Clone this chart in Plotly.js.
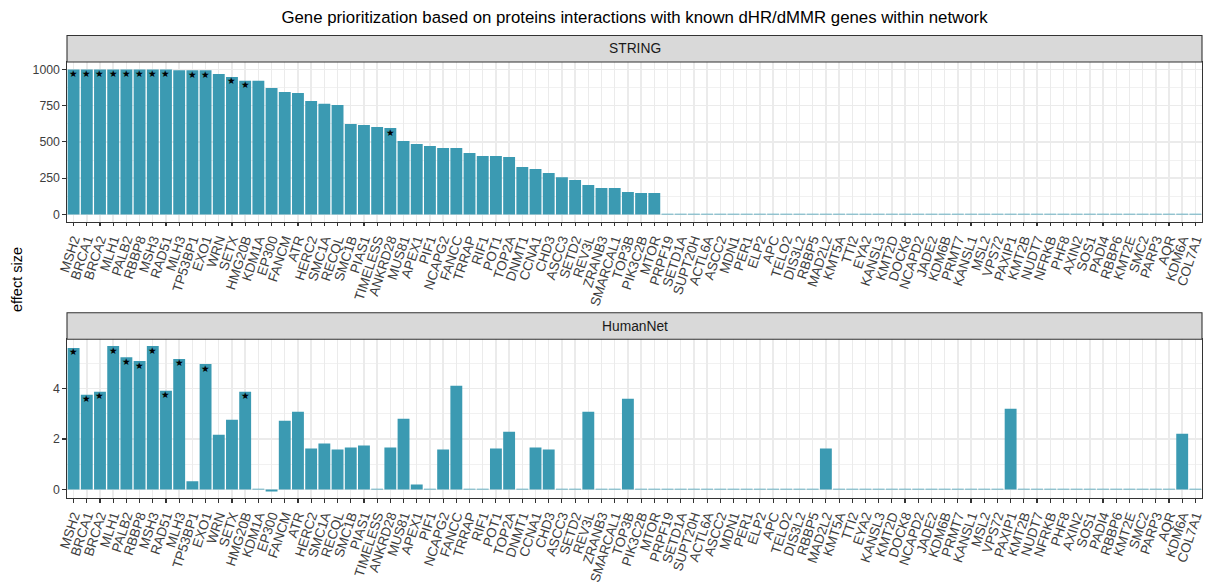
<!DOCTYPE html>
<html>
<head>
<meta charset="utf-8">
<script src="https://cdn.plot.ly/plotly-3.0.1.min.js"></script>
<style>html,body{margin:0;padding:0;background:#fff;}</style>
</head>
<body>
<div id="chart" style="width:1208px;height:583px;"></div>
<script>
// Candidate genes, in ranked order
const genes = ["MSH2","BRCA1","BRCA2","MLH1","PALB2","RBBP8","MSH3","RAD51","MLH3","TP53BP1",
  "EXO1","WRN","SETX","HMG20B","KDM1A","EP300","FANCM","ATR","HERC2","SMC1A",
  "RECQL","SMC1B","PIAS1","TIMELESS","ANKRD28","MUS81","APEX1","PIF1","NCAPG2","FANCC",
  "TRRAP","RIF1","POT1","TOP2A","DNMT1","CCNA1","CHD3","ASCC3","SETD2","REV3L",
  "ZRANB3","SMARCAL1","TOP3B","PIK3C2B","MTOR","PRPF19","SETD1A","SUPT20H","ACTL6A","ASCC2",
  "MDN1","PER1","ELP2","APC","TELO2","DIS3L2","RBBP5","MAD2L2","KMT5A","TTI2",
  "EYA2","KANSL3","KMT2D","DOCK8","NCAPD2","JADE2","KDM6B","PRMT7","KANSL1","MSL2",
  "VPS72","PAXIP1","KMT2B","NUDT7","NFRKB","PHF8","AXIN2","SOS1","PADI4","RBBP6",
  "KMT2E","SMC2","PARP3","AQR","KDM6A","COL7A1"];

// STRING interaction scores
const stringScores = [999,999,999,999,999,999,999,999,993,993,
  993,968,947,920,920,871,844,837,782,763,
  754,623,616,602,595,506,485,471,457,457,
  423,402,402,395,326,313,285,257,237,202,
  182,182,154,147,147,5,5,5,5,5,
  5,5,5,5,5,5,5,5,5,5,
  5,5,5,5,5,5,5,5,5,5,
  5,5,5,5,5,5,5,5,5,5,
  5,5,5,5,5,5];

// HumanNet effect sizes
const humanNetScores = [5.61,3.75,3.87,5.68,5.24,5.09,5.68,3.91,5.17,0.32,
  4.97,2.17,2.76,3.87,0.03,-0.08,2.72,3.08,1.62,1.82,
  1.58,1.66,1.74,0.03,1.66,2.80,0.20,0.03,1.58,4.11,
  0.03,0.03,1.62,2.29,0.03,1.66,1.58,0.03,0.03,3.08,
  0.03,0.03,3.59,0.03,0.03,0.03,0.03,0.03,0.03,0.03,
  0.03,0.03,0.03,0.03,0.03,0.03,0.03,1.62,0.03,0.03,
  0.03,0.03,0.03,0.03,0.03,0.03,0.03,0.03,0.03,0.03,
  0.03,3.20,0.03,0.03,0.03,0.03,0.03,0.03,0.03,0.03,
  0.03,0.03,0.03,0.03,2.21,0.03];

// Genes flagged as known dHR/dMMR genes in each network
const stringKnown = ["MSH2","BRCA1","BRCA2","MLH1","PALB2","RBBP8","MSH3","RAD51","TP53BP1","EXO1","SETX","HMG20B","ANKRD28"];
const humanNetKnown = ["MSH2","BRCA1","BRCA2","MLH1","PALB2","RBBP8","MSH3","RAD51","MLH3","EXO1","HMG20B"];

const panelNames = ["STRING", "HumanNet"];
const stringTicks = [0, 250, 500, 750, 1000];
const humanNetTicks = [0, 2, 4];

const W = 1208, H = 583;
const py = p => 1 - p / H;   // pixel row -> paper fraction
const FONT = "Liberation Sans, Arial, Helvetica, sans-serif";
const BAR = "#3B9AB2";
const DARK = "#333333";
const GRID = "#EBEBEB";

const traces = [
  {type: "bar", x: genes, y: stringScores, xaxis: "x", yaxis: "y",
   marker: {color: BAR, line: {width: 0}}, hoverinfo: "x+y"},
  {type: "bar", x: genes, y: humanNetScores, xaxis: "x2", yaxis: "y2",
   marker: {color: BAR, line: {width: 0}}, hoverinfo: "x+y"}
];

function xAxis(anchor) {
  return {
    anchor: anchor, domain: [0, 1], type: "category",
    categoryorder: "array", categoryarray: genes,
    tickmode: "array", tickvals: genes, ticktext: genes,
    tickangle: -72, tickfont: {family: FONT, size: 13.5, color: "#3D3D3D"},
    ticks: "outside", ticklen: 3.5, tickwidth: 1.1, tickcolor: DARK,
    showline: true, mirror: true, linecolor: DARK, linewidth: 1.1,
    showgrid: true, gridcolor: GRID, gridwidth: 1.4, zeroline: false,
    automargin: false, fixedrange: true
  };
}
function yAxis(anchor, dom, range, ticks, minorStep) {
  return {
    anchor: anchor, domain: dom, range: range,
    tickmode: "array", tickvals: ticks, ticktext: ticks.map(String),
    tickfont: {family: FONT, size: 12.3, color: "#3D3D3D"},
    ticks: "outside", ticklen: 3.5, tickwidth: 1.1, tickcolor: DARK,
    showline: true, mirror: true, linecolor: DARK, linewidth: 1.1,
    showgrid: true, gridcolor: GRID, gridwidth: 1.4, zeroline: false,
    minor: {dtick: minorStep, tick0: 0, showgrid: true, gridcolor: GRID, gridwidth: 0.7, ticks: ""},
    automargin: false, fixedrange: true
  };
}

const topDom = [py(221.7), py(62)];
const botDom = [py(498), py(339.3)];
const stripH = 26.5;

const shapes = [
  {type: "rect", xref: "paper", yref: "paper", x0: 0, x1: 1, y0: topDom[1], y1: py(62 - stripH),
   fillcolor: "#D9D9D9", line: {color: DARK, width: 1.1}},
  {type: "rect", xref: "paper", yref: "paper", x0: 0, x1: 1, y0: botDom[1], y1: py(339.3 - stripH),
   fillcolor: "#D9D9D9", line: {color: DARK, width: 1.1}}
];

const annotations = [
  {xref: "paper", yref: "paper", x: 0.5, y: py(62 - stripH / 2), text: panelNames[0], showarrow: false,
   xanchor: "center", yanchor: "middle", font: {family: FONT, size: 13.8, color: "#1A1A1A"}},
  {xref: "paper", yref: "paper", x: 0.5, y: py(339.3 - stripH / 2), text: panelNames[1], showarrow: false,
   xanchor: "center", yanchor: "middle", font: {family: FONT, size: 13.8, color: "#1A1A1A"}},
  {xref: "paper", yref: "paper", x: (17 - 67) / (W - 67 - 6), y: py(280), text: "effect size", textangle: -90,
   showarrow: false, xanchor: "center", yanchor: "middle", font: {family: FONT, size: 14.5, color: "#000000"}}
];

// star markers on the known genes, sitting just under the bar top
function addStars(known, values, xr, yr) {
  known.forEach(g => {
    const i = genes.indexOf(g);
    annotations.push({xref: xr, yref: yr, x: g, y: values[i], text: "★", showarrow: false,
      xanchor: "center", yanchor: "middle", yshift: -4,
      font: {family: "DejaVu Sans", size: 9.5, color: "#000000"}});
  });
}
addStars(stringKnown, stringScores, "x", "y");
addStars(humanNetKnown, humanNetScores, "x2", "y2");

const layout = {
  width: W, height: H,
  margin: {l: 67, r: 6, t: 0, b: 0, pad: 0},
  paper_bgcolor: "#FFFFFF", plot_bgcolor: "#FFFFFF",
  showlegend: false, bargap: 0.1,
  font: {family: FONT, color: "#000000"},
  title: {text: "Gene prioritization based on proteins interactions with known dHR/dMMR genes within network",
          x: 0.5, xref: "paper", y: py(17), yref: "paper", xanchor: "center", yanchor: "middle",
          font: {family: FONT, size: 16.8, color: "#000000"}},
  xaxis: xAxis("y"),
  yaxis: yAxis("x", topDom, [-50, 1050], stringTicks, 125),
  xaxis2: xAxis("y2"),
  yaxis2: yAxis("x2", botDom, [-0.34, 5.95], humanNetTicks, 1),
  shapes: shapes,
  annotations: annotations
};

Plotly.newPlot("chart", traces, layout, {displayModeBar: false, staticPlot: true});
</script>
</body>
</html>
